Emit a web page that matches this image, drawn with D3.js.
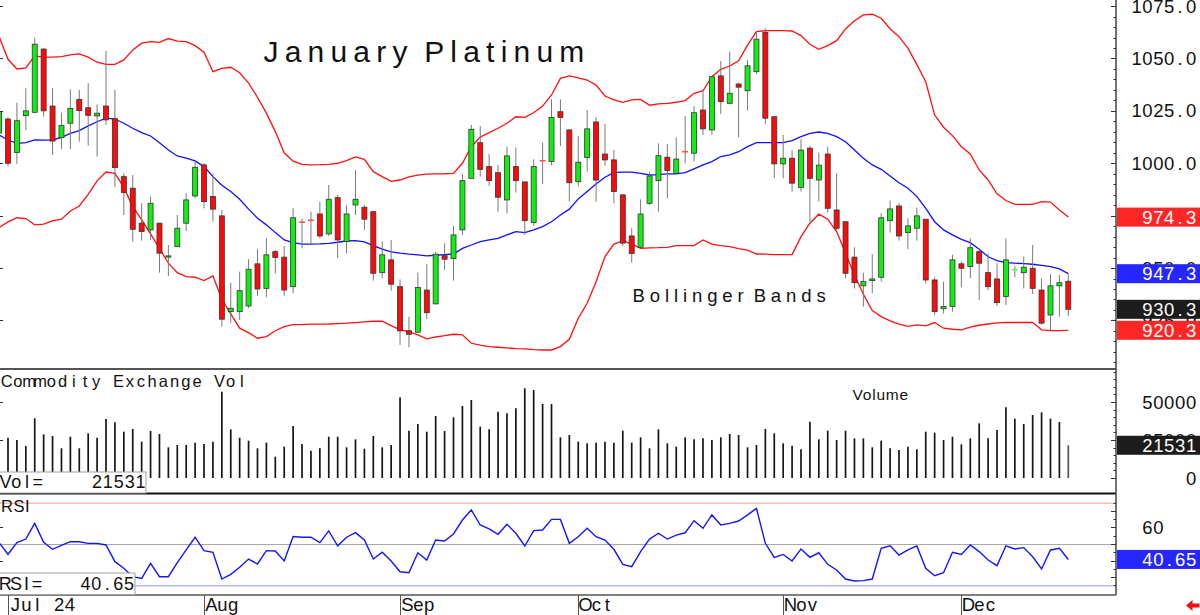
<!DOCTYPE html>
<html><head><meta charset="utf-8">
<script src="https://cdn.jsdelivr.net/npm/d3@7"></script>
<style>body{margin:0;background:#fff;}svg{display:block;}</style>
</head><body>
<svg id="c" width="1200" height="615"></svg>
<script>
// ---------- DATA (day index -1 .. 119; index 0 = first trading day of July 2024) ----------
const firstDay = -1;
const openP = [1014.4,1021.1,1005.1,1022.7,1024.3,1054.5,1027.3,1012.2,1019.1,1030.5,1026.5,1022.6,1027.3,1021.3,993.6,988.1,971.4,968.2,971.4,955.2,960.2,971.4,984.4,999.2,984.1,974.9,929.2,929.2,931.9,952.0,940.3,957.8,955.2,941.1,972.0,972.9,975.8,966.3,983.6,962.6,980.1,979.0,976.9,947.8,953.9,941.1,920.1,919.4,939.5,932.9,955.9,954.5,968.2,992.8,1009.8,998.4,995.5,982.5,998.4,991.1,971.7,1001.3,1000.8,1024.6,1015.9,991.2,1002.7,1019.7,1004.4,1001.6,984.9,965.3,959.9,980.9,991.7,1002.9,995.2,1005.6,1004.8,1025.4,1015.9,1041.7,1028.6,1037.8,1034.6,1043.7,1062.5,1022.2,999.7,1002.4,988.5,1007.2,992.0,1004.4,977.7,972.1,955.2,941.5,944.0,945.6,972.6,979.6,966.9,969.0,973.3,944.3,930.6,931.6,952.0,950.7,957.8,947.8,944.8,936.4,949.1,947.8,949.9,939.5,927.6,941.5,943.7];
const closeP = [1024.6,1000.0,1020.3,1025.0,1056.8,1025.0,1010.6,1018.1,1026.2,1025.1,1022.9,1023.9,1020.7,997.9,986.0,968.5,967.4,980.9,957.1,955.8,969.0,982.5,998.1,981.7,978.1,925.6,930.8,939.2,949.4,940.0,956.3,955.0,939.5,974.0,971.9,972.8,965.3,982.8,963.4,975.8,982.8,973.3,947.5,956.3,942.3,920.0,918.4,940.7,928.7,956.6,954.2,965.8,991.7,1016.2,997.1,991.7,983.8,1003.5,991.7,972.6,998.4,1001.2,1021.9,1021.9,990.7,1000.5,1016.4,992.0,1001.6,986.5,961.9,957.0,975.8,993.9,1003.6,996.5,1002.0,1005.5,1024.1,1016.4,1041.3,1029.4,1033.4,1036.3,1046.5,1059.2,1021.5,999.7,1002.4,990.5,1006.3,992.8,999.1,978.5,969.0,947.5,943.0,943.5,944.8,974.0,978.2,965.3,970.1,974.9,944.3,929.2,931.6,953.9,949.9,959.7,952.3,941.1,933.5,953.9,949.2,950.4,940.3,923.7,941.5,943.0,930.3];
const highP = [1026.0,1022.0,1028.9,1035.8,1059.9,1054.8,1035.8,1024.1,1035.3,1035.0,1038.2,1028.1,1053.7,1035.0,995.2,994.4,980.9,984.1,971.6,961.0,975.3,985.7,1000.8,1000.0,995.0,977.7,943.0,948.3,954.2,959.0,964.2,958.6,960.5,978.5,973.6,976.9,981.7,989.6,984.9,980.1,996.8,980.1,977.0,962.6,963.4,944.6,926.8,947.8,951.8,957.8,961.8,970.2,994.9,1018.3,1017.8,1004.4,999.2,1007.9,1007.6,991.2,1001.9,1009.8,1030.5,1030.5,1016.0,1013.0,1025.4,1022.0,1018.7,1006.3,985.2,969.0,982.8,996.0,1009.5,1009.2,1012.4,1022.6,1027.3,1034.6,1041.5,1048.8,1053.3,1038.5,1049.3,1062.8,1064.4,1022.3,1013.5,1006.3,1011.5,1008.3,1005.1,1007.9,995.2,972.2,959.9,947.8,956.6,976.1,982.2,980.9,973.8,978.8,973.4,945.6,943.5,956.3,953.1,964.2,959.4,957.0,952.3,964.2,951.0,955.5,961.0,945.1,947.1,946.7,947.1];
const lowP = [1012.0,998.4,999.7,1015.9,1024.0,1022.2,1004.0,1006.8,1006.8,1010.3,1008.4,1003.2,1018.3,988.8,975.3,962.6,963.1,963.4,947.8,946.2,960.0,967.7,983.3,978.5,972.1,922.0,923.7,925.2,930.8,936.7,936.1,947.5,936.7,938.0,959.4,961.0,964.2,965.3,954.7,957.0,975.3,968.2,944.0,945.1,939.2,913.3,912.2,919.2,925.6,932.7,949.1,944.0,965.8,992.6,993.6,989.2,976.9,976.1,986.0,965.8,970.1,990.1,999.1,1008.3,981.7,989.0,996.0,981.7,998.9,980.9,960.5,952.6,959.7,980.1,976.9,983.3,994.9,1000.0,1000.8,1013.5,1013.5,1023.5,1028.4,1012.4,1025.1,1042.6,1018.7,992.8,992.8,986.5,986.5,972.1,981.7,976.5,967.6,945.1,940.3,931.6,938.0,943.5,966.9,963.1,959.0,963.1,942.7,927.6,928.3,929.2,940.8,945.1,934.8,939.5,931.9,932.4,945.6,940.3,937.6,923.0,920.1,926.8,927.1];
const upperBand = [1060.5,1049.6,1045.0,1045.5,1051.2,1050.6,1050.6,1050.9,1051.7,1052.2,1050.6,1048.2,1047.2,1047.2,1049.3,1054.1,1057.3,1058.0,1057.7,1059.5,1058.3,1058.0,1056.1,1053.0,1043.7,1045.3,1045.8,1043.2,1038.2,1031.5,1023.9,1015.1,1005.0,1001.0,999.5,999.2,999.3,999.5,1000.0,1001.3,1003.0,1001.9,996.0,993.6,991.4,992.0,993.5,994.3,994.8,994.9,995.0,995.2,1000.0,1007.9,1012.5,1014.6,1016.7,1019.1,1022.2,1021.9,1024.1,1027.3,1032.6,1040.5,1041.7,1040.7,1039.7,1037.3,1032.1,1030.2,1029.1,1030.2,1030.5,1027.7,1028.3,1028.6,1029.1,1029.9,1033.4,1034.6,1041.3,1044.8,1046.4,1048.9,1056.4,1062.8,1063.3,1063.3,1063.3,1063.1,1060.9,1056.8,1054.4,1056.1,1058.5,1064.1,1068.0,1070.8,1071.1,1069.2,1064.2,1060.4,1054.9,1047.2,1038.9,1023.0,1017.2,1013.2,1007.9,1004.4,996.8,992.0,985.4,982.2,980.4,980.4,980.4,981.7,981.5,977.7,974.3];
const midBand = [1013.5,1011.1,1009.5,1009.8,1011.1,1011.0,1011.1,1012.4,1014.3,1015.6,1017.8,1019.8,1021.5,1021.1,1019.1,1016.7,1014.6,1013.0,1009.8,1006.3,1003.5,1002.4,1001.1,998.4,993.6,989.5,986.5,982.8,978.1,973.8,970.6,966.9,963.4,962.1,961.4,961.4,961.5,961.8,962.3,962.9,963.1,962.5,960.7,959.0,957.7,957.1,956.6,956.3,955.8,956.1,956.4,956.7,959.4,961.0,962.6,963.4,964.2,965.8,967.4,966.9,968.2,969.8,972.1,975.3,978.1,983.0,986.5,990.1,993.3,995.5,995.8,995.8,995.2,994.4,994.6,994.9,994.9,995.5,997.3,999.2,1000.8,1003.2,1004.0,1005.5,1007.9,1009.8,1009.8,1009.8,1009.8,1010.8,1012.7,1014.3,1014.9,1014.3,1012.7,1010.3,1006.3,1002.4,999.2,997.1,993.9,990.7,988.1,984.2,978.5,972.1,968.2,965.8,963.7,962.1,959.0,955.4,953.5,952.6,952.3,952.1,951.8,951.3,950.7,949.6,947.3];
const lowerBand = [969.3,972.0,974.0,973.6,970.6,971.0,972.5,973.3,977.2,979.6,985.2,991.6,995.8,995.2,988.5,979.3,973.0,966.3,959.4,952.3,947.8,945.9,945.6,944.0,946.2,935.1,928.1,921.3,919.2,916.5,917.3,920.1,922.0,923.0,923.0,923.2,923.2,923.3,923.5,923.7,924.0,924.3,924.6,924.6,922.5,920.5,919.7,918.1,916.2,917.1,917.7,918.4,918.1,914.1,913.2,912.5,912.2,911.9,911.5,911.4,911.1,910.9,910.9,912.5,916.0,926.0,933.2,943.5,955.5,961.4,962.9,961.5,959.4,959.6,959.7,959.9,960.7,960.7,960.7,963.4,961.4,960.7,960.2,959.3,958.5,956.7,956.6,956.4,956.4,956.4,965.0,971.4,975.7,973.3,967.4,957.0,946.7,937.5,929.7,926.8,924.8,923.2,922.2,922.9,922.4,924.0,921.3,920.8,920.5,921.8,922.7,923.3,923.8,924.1,924.0,924.0,924.1,920.5,920.1,920.1,920.3];
const volume = [null,26500,25000,21050,39300,28750,27630,19540,27170,19540,29390,26500,38820,36640,30480,32240,23900,30920,28950,20180,21710,21710,23250,22370,23900,56800,32020,26500,24560,19540,23250,14040,20610,34210,22370,17980,19540,27170,27170,20180,25440,19300,27630,20180,21710,53070,31140,35530,30480,40790,30920,39910,47370,51320,33770,32020,43640,42540,45840,59000,57890,48680,48680,26750,28290,23900,22810,23250,23900,23250,31140,23250,26750,19540,32020,22810,20610,26750,25440,26090,25000,26750,28950,28290,20180,21710,32240,29390,22810,21270,18870,37060,25440,31140,25000,31140,26090,26090,20180,24560,19540,18420,20610,18870,30480,29820,25000,27170,22150,26090,35960,26090,31580,46490,39040,35530,41450,43200,39040,36840,21531];
const rsi = [50.8,43.8,50.8,53.0,62.5,51.0,46.8,49.2,51.4,51.4,50.4,50.4,49.4,39.3,35.3,30.2,29.2,38.3,30.2,30.2,38.7,46.4,54.1,46.0,45.0,28.8,31.6,35.9,40.9,37.9,46.0,45.8,39.7,54.5,54.1,54.1,50.8,57.9,48.9,54.1,56.9,52.4,40.9,45.0,39.7,33.2,32.6,44.7,40.3,52.4,51.8,56.1,64.5,70.6,61.5,59.1,55.9,61.9,56.5,48.8,58.1,58.5,64.9,64.9,50.4,54.4,59.5,54.4,52.4,46.8,37.7,36.3,45.4,53.0,56.5,53.0,55.4,56.8,64.1,59.5,67.6,61.5,62.5,63.9,67.6,71.6,50.4,41.9,43.7,39.7,47.0,41.9,44.7,37.7,34.3,28.8,27.6,27.8,28.8,47.4,48.9,43.3,46.4,48.8,35.3,30.8,32.6,45.0,43.7,49.4,45.4,40.3,36.9,48.9,47.0,47.8,42.3,34.9,46.4,47.4,40.65];
const monthLabels = ["Jul 24","Aug","Sep","Oct","Nov","Dec"];
const monthStartIdx = [0,22,44,64,87,107];
const priceTicks = [1075,1050,1025,1000,975,950,925];
const volTicks = [0,25000,50000];
const rsiTicks = [60];
const rsiLevels = [75,50,25];
const titleText = "January Platinum";
const bandText = "Bollinger Bands";

// ---------- SCALES ----------
const AX = 1116;
const svg = d3.select("#c");
const x = d3.scaleLinear().domain([0,119]).range([8,1068.3]);
const yP = d3.scaleLinear().domain([902.3,1077.9]).range([368,0]);
const yV = d3.scaleLinear().domain([0,50000]).range([478,402]);
const yR = d3.scaleLinear().domain([25,75]).range([585.3,502.7]);
const FONT = "Liberation Sans, Arial, sans-serif";

const days = d3.range(firstDay, firstDay + openP.length);
const candles = days.map((d,k)=>({i:d,o:openP[k],h:highP[k],l:lowP[k],c:closeP[k]}));

const ctx = document.createElement("canvas").getContext("2d");
function mono(g, str, x0, y, size, pitch, fill, anchorEnd){
  ctx.font = size + "px 'Liberation Sans'";
  const n = str.length;
  const start = anchorEnd ? x0 - n*pitch : x0;
  const xs = [];
  for (let k=0;k<n;k++){ const w = ctx.measureText(str[k]).width; xs.push((start + k*pitch + (pitch-w)/2).toFixed(2)); }
  return g.append("text").attr("x", xs.join(" ")).attr("y", y)
    .attr("font-family", FONT).attr("font-size", size).attr("fill", fill || "#111").text(str);
}

const defs = svg.append("defs");
defs.append("clipPath").attr("id","cpMain").append("rect").attr("x",0).attr("y",0).attr("width",AX).attr("height",368);
defs.append("clipPath").attr("id","cpVol").append("rect").attr("x",0).attr("y",370).attr("width",AX).attr("height",122);
defs.append("clipPath").attr("id","cpRsi").append("rect").attr("x",0).attr("y",494).attr("width",AX).attr("height",100);

// ---------- MAIN PANEL ----------
const gm = svg.append("g").attr("clip-path","url(#cpMain)");
const bandLine = arr => d3.line().x((d,k)=>x(days[k])).y(d=>yP(d))(arr);
gm.append("path").attr("d", bandLine(upperBand)).attr("fill","none").attr("stroke","#ff1010").attr("stroke-width",1.3);
gm.append("path").attr("d", bandLine(lowerBand)).attr("fill","none").attr("stroke","#ff1010").attr("stroke-width",1.3);
gm.append("path").attr("d", bandLine(midBand)).attr("fill","none").attr("stroke","#1010ff").attr("stroke-width",1.3);

gm.selectAll("line.wick").data(candles).join("line").attr("class","wick")
  .attr("x1",d=>x(d.i)).attr("x2",d=>x(d.i)).attr("y1",d=>yP(d.h)).attr("y2",d=>yP(d.l))
  .attr("stroke","#7a7a7a").attr("stroke-width",1);
const solid = candles.filter(d=>Math.abs(d.o-d.c)>=0.3);
const dash = candles.filter(d=>Math.abs(d.o-d.c)<0.3);
gm.selectAll("rect.body").data(solid).join("rect").attr("class","body")
  .attr("x",d=>x(d.i)-2.5).attr("width",5)
  .attr("y",d=>yP(Math.max(d.o,d.c))).attr("height",d=>yP(Math.min(d.o,d.c))-yP(Math.max(d.o,d.c)))
  .attr("fill",d=>d.c>d.o?"#10f010":"#ff0a0a").attr("stroke","#333").attr("stroke-width",0.8);
gm.selectAll("line.doji").data(dash).join("line").attr("class","doji")
  .attr("x1",d=>x(d.i)-3).attr("x2",d=>x(d.i)+3).attr("y1",d=>yP(d.c)).attr("y2",d=>yP(d.c))
  .attr("stroke",d=>d.c>d.o?"#60f060":"#ff5050").attr("stroke-width",1.6);

svg.append("text").attr("x",263.5).attr("y",61.5).attr("font-family",FONT).attr("font-size",30)
  .attr("letter-spacing",6.2).attr("word-spacing",-4).attr("fill","#111").text(titleText);
svg.append("text").attr("x",632.5).attr("y",301.5).attr("font-family",FONT).attr("font-size",18.5)
  .attr("letter-spacing",4.9).attr("word-spacing",-5).attr("fill","#111").text(bandText);

// ---------- VOLUME PANEL ----------
const gv = svg.append("g").attr("clip-path","url(#cpVol)");
const volData = days.map((d,k)=>({i:d,v:volume[k]})).filter(d=>d.v!=null);
gv.selectAll("line.vol").data(volData).join("line").attr("class","vol")
  .attr("x1",d=>x(d.i)).attr("x2",d=>x(d.i)).attr("y1",yV(0)).attr("y2",d=>yV(d.v))
  .attr("stroke",(d,k)=>k===volData.length-1?"#555":"#151515").attr("stroke-width",1.7);
mono(svg,"Commodity Exchange Vol",1,387,16.5,11.2);
svg.append("text").attr("x",852.5).attr("y",400).attr("font-family",FONT).attr("font-size",15.5)
  .attr("letter-spacing",0.8).attr("fill","#111").text("Volume");

// ---------- RSI PANEL ----------
const gr = svg.append("g").attr("clip-path","url(#cpRsi)");
const lvlCol = {75:"#ff9a9a",50:"#a8a8a8",25:"#9a9aff"};
rsiLevels.forEach(v=>{
  gr.append("line").attr("x1",0).attr("x2",AX).attr("y1",yR(v)+0.5).attr("y2",yR(v)+0.5)
    .attr("stroke",lvlCol[v]).attr("stroke-width",1);
});
gr.append("path").attr("d", d3.line().x((d,k)=>x(days[k])).y(d=>yR(d))(rsi))
  .attr("fill","none").attr("stroke","#1515ff").attr("stroke-width",1.4);
svg.append("text").attr("x",1).attr("y",511.5).attr("font-family",FONT).attr("font-size",16.5)
  .attr("letter-spacing",0.5).attr("fill","#111").text("RSI");

// ---------- FRAME ----------
svg.append("line").attr("x1",0).attr("x2",AX).attr("y1",369).attr("y2",369).attr("stroke","#555").attr("stroke-width",2);
svg.append("line").attr("x1",0).attr("x2",AX).attr("y1",493.5).attr("y2",493.5).attr("stroke","#111").attr("stroke-width",2);
svg.append("line").attr("x1",0).attr("x2",AX).attr("y1",595).attr("y2",595).attr("stroke","#555").attr("stroke-width",1.5);
svg.append("line").attr("x1",AX).attr("x2",AX).attr("y1",0).attr("y2",595).attr("stroke","#444").attr("stroke-width",1.5);

// right axis ticks
const ticks = svg.append("g").attr("stroke","#333").attr("stroke-width",1);
d3.range(905,1080,5).forEach(v=>{ const y=Math.round(yP(v))+0.5; if(y<0||y>367) return;
  const L = v%25===0?5:2.5; ticks.append("line").attr("x1",AX-L).attr("x2",AX).attr("y1",y).attr("y2",y); });
d3.range(0,70001,5000).forEach(v=>{ const y=Math.round(yV(v))+0.5; if(y<371||y>491) return;
  const L = v%25000===0?5:2.5; ticks.append("line").attr("x1",AX-L).attr("x2",AX).attr("y1",y).attr("y2",y); });
d3.range(20,81,5).forEach(v=>{ const y=Math.round(yR(v))+0.5; if(y<496||y>593) return;
  const L = v%10===0?5:2.5; ticks.append("line").attr("x1",AX-L).attr("x2",AX).attr("y1",y).attr("y2",y); });
// left edge ticks
priceTicks.forEach(v=>{ const y=Math.round(yP(v))+0.5; ticks.append("line").attr("x1",0).attr("x2",3).attr("y1",y).attr("y2",y); });
[25000,50000].forEach(v=>{ const y=Math.round(yV(v))+0.5; ticks.append("line").attr("x1",0).attr("x2",3).attr("y1",y).attr("y2",y); });
[40,60].forEach(v=>{ const y=Math.round(yR(v))+0.5; ticks.append("line").attr("x1",0).attr("x2",3).attr("y1",y).attr("y2",y); });

// right axis labels
const LS = 18.5, PITCH = 10.9, REND = 1196.5;
priceTicks.forEach(v=>mono(svg, v.toFixed(1), REND, yP(v)+6.6, LS, PITCH, "#111", true));
volTicks.forEach(v=>mono(svg, String(v), REND, yV(v)+6.6, LS, PITCH, "#111", true));
rsiTicks.forEach(v=>mono(svg, String(v), 1142, yR(v)+6.6, LS, PITCH, "#111", false));

// last value boxes
const n = openP.length-1;
const boxes = [
  {v:upperBand[n], y:yP(upperBand[n]), col:"#ff2626", t:upperBand[n].toFixed(1)},
  {v:midBand[n],   y:yP(midBand[n]),   col:"#2626ff", t:midBand[n].toFixed(1)},
  {v:closeP[n],    y:yP(closeP[n]),    col:"#1c1c1c", t:closeP[n].toFixed(1)},
  {v:lowerBand[n], y:yP(lowerBand[n]), col:"#ff2626", t:lowerBand[n].toFixed(1)},
  {v:volume[n],    y:yV(volume[n]),    col:"#1c1c1c", t:String(volume[n])},
  {v:rsi[n],       y:yR(rsi[n]),       col:"#2626ff", t:rsi[n].toFixed(2)}
];
boxes.forEach(b=>{
  svg.append("rect").attr("x",1117).attr("y",b.y-9.5).attr("width",83).attr("height",19).attr("fill",b.col);
  mono(svg, b.t, REND, b.y+6.6, LS, PITCH, "#fff", true);
});

// left value boxes
svg.append("rect").attr("x",-1).attr("y",472).attr("width",147).attr("height",21).attr("fill","#fff").attr("stroke","#a0a0a0");
mono(svg,"Vol=",0,488.3,18,10.8);
mono(svg,String(volume[n]),146,488.3,18,10.9,"#111",true);
svg.append("rect").attr("x",-1).attr("y",573).attr("width",136).attr("height",21.5).attr("fill","#fff").attr("stroke","#a0a0a0");
mono(svg,"RSI=",0,590,18,10.6);
mono(svg,rsi[n].toFixed(2),134.5,590,18,10.9,"#111",true);

// x axis month labels
monthStartIdx.forEach((idx,k)=>{
  const lx = Math.round(x(idx))+0.5;
  svg.append("line").attr("x1",lx).attr("x2",lx).attr("y1",595).attr("y2",615).attr("stroke","#555").attr("stroke-width",1);
  mono(svg, monthLabels[k], lx+1.5, 610.5, 18.5, 10.9);
});

// red arrow
svg.append("polygon").attr("points","1186,605.5 1192.5,600 1192.5,603.5 1199.5,603.5 1199.5,607.5 1192.5,607.5 1192.5,611").attr("fill","#ee1111");
</script>
</body></html>
